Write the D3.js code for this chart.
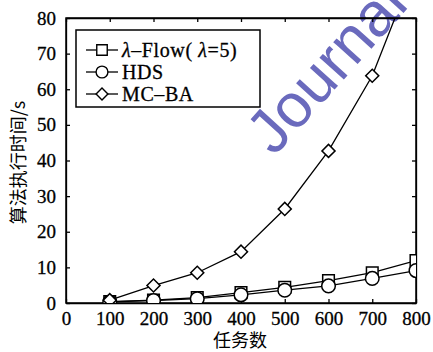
<!DOCTYPE html>
<html>
<head>
<meta charset="utf-8">
<script src="https://cdn.jsdelivr.net/npm/d3@7"></script>
<style>
  body { margin: 0; background: white; }
  svg text { font-family: "Liberation Serif", "Times New Roman", serif; fill: black; }
  .cjk { font-family: "Noto Sans CJK SC", "Noto Sans CJK JP", sans-serif; }
</style>
</head>
<body>
<svg id="chart"></svg>
<script>
// data
const tasks = [100, 200, 300, 400, 500, 600, 700, 800]
const lambdaFlow = [0.4, 0.8, 1.5, 2.9, 4.4, 6.3, 8.5, 11.9]
const hds = [0.3, 0.7, 1.2, 2.3, 3.6, 4.8, 6.9, 9.1]
const mcba = [0.8, 4.9, 8.5, 14.4, 26.4, 42.7, 63.8, 95]
const xTicks = [0, 100, 200, 300, 400, 500, 600, 700, 800]
const yTicks = [0, 10, 20, 30, 40, 50, 60, 70, 80]
const seriesNames = ['λ–Flow( λ=5)', 'HDS', 'MC–BA']

const W = 433, H = 352
const mLeft = 66, mTop = 18, mRight = 416, mBottom = 303

const svg = d3.select('#chart').attr('width', W).attr('height', H)

const x = d3.scaleLinear().domain([0, 800]).range([mLeft, mRight])
const y = d3.scaleLinear().domain([0, 80]).range([mBottom, mTop])

svg.append('defs').append('clipPath').attr('id', 'plot-clip')
  .append('rect')
  .attr('x', mLeft).attr('y', mTop)
  .attr('width', mRight - mLeft).attr('height', mBottom - mTop)

// watermark (runs off the top edge, as in the scan)
svg.append('text')
  .attr('transform', 'translate(274,157) rotate(-48)')
  .style('font-family', '"Liberation Sans", Arial, sans-serif')
  .style('font-size', '62px')
  .style('fill', '#6a6abd')
  .text('Journal')

// axes, ticks point inward
const tickLen = 4
svg.append('g')
  .attr('transform', `translate(0,${mBottom})`)
  .call(d3.axisBottom(x).tickValues(xTicks).tickSizeInner(-tickLen).tickSizeOuter(0).tickPadding(9))
svg.append('g')
  .attr('transform', `translate(0,${mTop})`)
  .call(d3.axisTop(x).tickValues(xTicks).tickSizeInner(-tickLen).tickSizeOuter(0).tickFormat(''))
svg.append('g')
  .attr('transform', `translate(${mLeft},0)`)
  .call(d3.axisLeft(y).tickValues(yTicks).tickSizeInner(-tickLen).tickSizeOuter(0).tickPadding(10))
svg.append('g')
  .attr('transform', `translate(${mRight},0)`)
  .call(d3.axisRight(y).tickValues(yTicks).tickSizeInner(-tickLen).tickSizeOuter(0).tickFormat(''))

svg.selectAll('.tick text')
  .style('font-size', '19px')
  .style('font-family', '"Liberation Serif", serif')
  .attr('stroke', 'black').attr('stroke-width', 0.3)
svg.selectAll('.domain, .tick line').attr('stroke', 'black').attr('stroke-width', 1.3)

svg.append('rect')
  .attr('x', mLeft).attr('y', mTop)
  .attr('width', mRight - mLeft).attr('height', mBottom - mTop)
  .attr('fill', 'none').attr('stroke', 'black').attr('stroke-width', 1.5)

// axis titles
svg.append('text').attr('class', 'cjk')
  .attr('x', (mLeft + mRight) / 2 - 1).attr('y', 347)
  .attr('text-anchor', 'middle')
  .style('font-size', '18px')
  .text('任务数')
svg.append('text').attr('class', 'cjk')
  .attr('transform', `translate(25,${(mTop + mBottom) / 2 + 2}) rotate(-90)`)
  .attr('text-anchor', 'middle')
  .style('font-size', '18px')
  .text('算法执行时间/s')

// markers
const sym = {
  square: d3.symbol().type(d3.symbolSquare).size(135),
  circle: d3.symbol().type(d3.symbolCircle).size(145),
  diamond: d3.symbol().type(d3.symbolSquare).size(85)
}
const series = [
  {name: seriesNames[0], values: lambdaFlow, shape: 'square'},
  {name: seriesNames[1], values: hds, shape: 'circle'},
  {name: seriesNames[2], values: mcba, shape: 'diamond'}
]

const line = d3.line().x((d, i) => x(tasks[i])).y(d => y(d))
const plot = svg.append('g').attr('clip-path', 'url(#plot-clip)')

series.forEach(s => {
  plot.append('path')
    .datum(s.values)
    .attr('d', line)
    .attr('fill', 'none')
    .attr('stroke', 'black')
    .attr('stroke-width', 1.3)
})
series.forEach(s => {
  plot.append('g').selectAll('path')
    .data(s.values)
    .join('path')
    .attr('transform', (d, i) => `translate(${x(tasks[i])},${y(d)})` + (s.shape == 'diamond' ? ' rotate(45)' : ''))
    .attr('d', sym[s.shape]())
    .attr('fill', 'white')
    .attr('stroke', 'black')
    .attr('stroke-width', 1.5)
})

// legend
const lg = svg.append('g').attr('transform', 'translate(76,30)')
lg.append('rect')
  .attr('width', 184).attr('height', 77)
  .attr('fill', 'white').attr('stroke', 'black').attr('stroke-width', 1.5)
const rows = lg.selectAll('g.row')
  .data(series)
  .join('g')
  .attr('class', 'row')
  .attr('transform', (d, i) => `translate(0,${20 + i * 22})`)
rows.append('line')
  .attr('x1', 10).attr('x2', 42)
  .attr('stroke', 'black').attr('stroke-width', 1.3)
rows.append('path')
  .attr('transform', d => 'translate(26,0)' + (d.shape == 'diamond' ? ' rotate(45)' : ''))
  .attr('d', d => d.shape == 'diamond' ? d3.symbol().type(d3.symbolSquare).size(70)() : d3.symbol().type(d.shape == 'square' ? d3.symbolSquare : d3.symbolCircle).size(110)())
  .attr('fill', 'white').attr('stroke', 'black').attr('stroke-width', 1.4)
const labels = rows.append('text')
  .attr('x', 46).attr('y', 7)
  .style('font-size', '20px')
  .style('letter-spacing', '0.6px')
  .attr('stroke', 'black').attr('stroke-width', 0.3)
labels.each(function(d) {
  const t = d3.select(this)
  if (d.shape == 'square') {
    t.append('tspan').style('font-style', 'italic').text('λ')
    t.append('tspan').text('–Flow( ')
    t.append('tspan').style('font-style', 'italic').text('λ')
    t.append('tspan').text('=5)')
  } else {
    t.text(d.name)
  }
})
</script>
</body>
</html>
